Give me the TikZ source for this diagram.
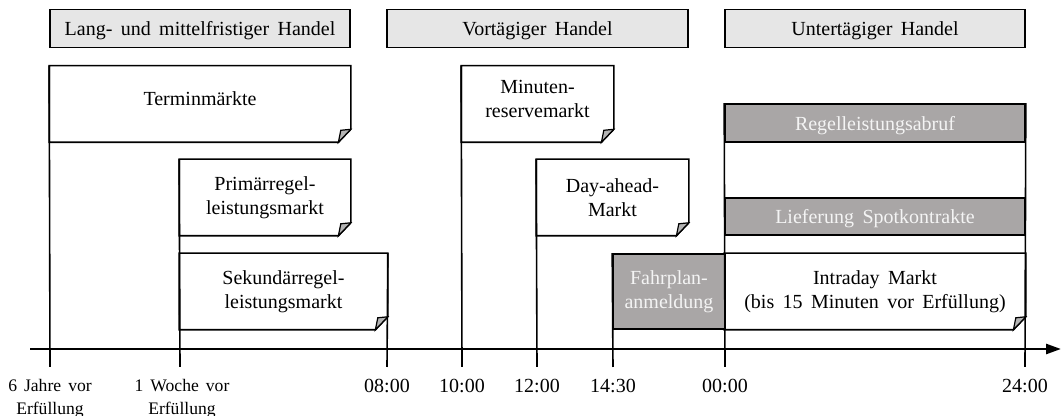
\documentclass[tikz,border=0pt]{standalone}
\usepackage{fontspec}
\setmainfont{Liberation Serif}
\usepackage{tikz}
\usepackage{xcolor}
\usetikzlibrary{arrows.meta, positioning}

\definecolor{kopfgrau}{HTML}{E6E6E6}
\definecolor{feldgrau}{HTML}{A9A6A6}
\definecolor{schrift}{HTML}{F4F4F4}
\definecolor{eckgrau}{HTML}{B4B4B4}

\tikzset{
  kopf/.style={draw, fill=kopfgrau, minimum width=150pt, minimum height=19pt, inner sep=0pt, text depth=0pt},
  markt/.style={align=center, inner sep=0pt, minimum height=37.5pt},
  feld/.style={draw, fill=feldgrau, text=schrift, align=center, inner sep=0pt},
  zeit/.style={inner sep=0pt},
  vorlauf/.style={zeit, align=center, font={\fontsize{8.8}{11.5}\selectfont\spaceskip 0.4em\relax}}
}

\begin{document}
\begin{tikzpicture}[x=0.5pt, y=-0.5pt, font={\fontsize{10}{12}\selectfont\spaceskip 0.42em\relax}, line width=0.8pt]
    \useasboundingbox (0,0) rectangle (1062,416);

    % Header boxes
    \node[kopf] (lang) at (200,28.5) {Lang- und mittelfristiger Handel};
    \node[kopf, minimum width=150.5pt] (vortag) at (537.5,28.5) {Vortägiger Handel};
    \node[kopf] (untertag) at (875,28.5) {Untertägiger Handel};

    % Markets
    \node[markt, minimum width=150pt, text depth=5pt] (termin) at (200,104) {Terminmärkte};
    \node[markt, minimum width=85pt] (primaer) at (265,197.5) {Primärregel-\\leistungsmarkt};
    \node[markt, minimum width=103.5pt] (sekundaer) at (283.5,291.5) {Sekundärregel-\\leistungsmarkt};
    \node[markt, minimum width=75.5pt, text depth=5pt] (minuten) at (537.5,104) {Minuten-\\reservemarkt};
    \node[markt, minimum width=75.5pt] (dayahead) at (612.5,197.5) {Day-ahead-\\Markt};
    \node[markt, minimum width=150pt] (intraday) at (875,291.5) {Intraday Markt\\(bis 15 Minuten vor Erfüllung)};

    % Outlines with folded corner
    \foreach \n in {termin,primaer,sekundaer,minuten,dayahead,intraday} {
        \draw ([xshift=-6.2pt]\n.south east) -- (\n.south west) -- (\n.north west)
            -- (\n.north east) -- ([yshift=6.5pt]\n.south east) -- cycle;
        \filldraw[fill=eckgrau, line width=0.6pt] ([xshift=-6.2pt]\n.south east)
            -- ([xshift=-5pt, yshift=6pt]\n.south east) -- ([yshift=6.5pt]\n.south east) -- cycle;
    }

    % Grey fields
    \node[feld, minimum width=56pt, minimum height=37.5pt] (fahrplan) at (669,291.5) {Fahrplan-\\anmeldung};
    \node[feld, minimum width=150pt, minimum height=19pt, text depth=0pt] (abruf) at (875,123) {Regelleistungsabruf};
    \node[feld, minimum width=150pt, minimum height=18.5pt, text depth=0pt] (liefer) at (875,216.5) {Lieferung Spotkontrakte};

    % Time axis
    \coordinate (start) at (30,349);
    \coordinate (ende) at (1061,349);
    \draw[line width=1.3pt, -{Triangle[length=7.5pt, width=5pt]}] (start) -- (ende);

    % Ticks
    \coordinate (t6j) at (50,367);
    \coordinate (t1w) at (180,367);
    \coordinate (t08) at (387,367);
    \coordinate (t10) at (462,367);
    \coordinate (t12) at (537,367);
    \coordinate (t1430) at (613,367);
    \coordinate (t00) at (725,367);
    \coordinate (t24) at (1025,367);

    \draw (termin.north west) -- (t6j);
    \draw (primaer.north west) -- (t1w);
    \draw (sekundaer.north east) -- (t08);
    \draw (minuten.north west) -- (t10);
    \draw (dayahead.north west) -- (t12);
    \draw (fahrplan.north west) -- (t1430);
    \draw (abruf.north west) -- (t00);
    \draw (abruf.north east) -- (t24);

    % Tick labels
    \node[vorlauf, below=5.5pt of t6j] (l6j) {6 Jahre vor\\Erfüllung};
    \node[vorlauf, below=5.5pt of t1w, xshift=1pt] (l1w) {1 Woche vor\\Erfüllung};
    \node[zeit, below=5.5pt of t08] (l08) {08:00};
    \node[zeit, below=5.5pt of t10] (l10) {10:00};
    \node[zeit, below=5.5pt of t12] (l12) {12:00};
    \node[zeit, below=5.5pt of t1430] (l1430) {14:30};
    \node[zeit, below=5.5pt of t00] (l00) {00:00};
    \node[zeit, below=5.5pt of t24] (l24) {24:00};
\end{tikzpicture}
\end{document}
